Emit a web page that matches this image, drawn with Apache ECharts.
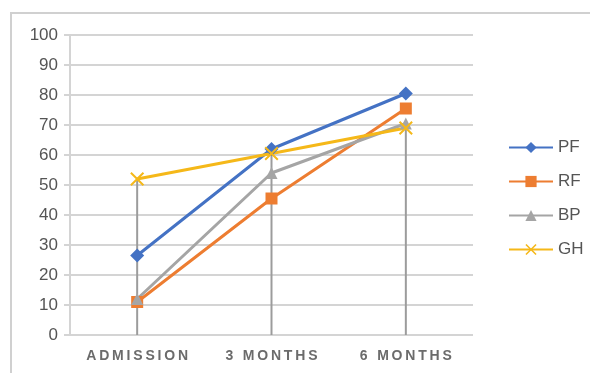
<!DOCTYPE html>
<html>
<head>
<meta charset="utf-8">
<script src="https://cdn.jsdelivr.net/npm/echarts@6/dist/echarts.min.js"></script>
<style>
  html, body { margin: 0; padding: 0; background: #fff; }
  #chart { width: 590px; height: 373px; }
</style>
</head>
<body>
<div id="chart"></div>
<script>
const categories = ['ADMISSION', '3 MONTHS', '6 MONTHS'];
const pfValues = [26.5, 62, 80.5];
const rfValues = [11, 45.5, 75.5];
const bpValues = [12, 54, 70.5];
const ghValues = [52, 60.5, 69];
const yTicks = [0, 10, 20, 30, 40, 50, 60, 70, 80, 90, 100];

// thin x marker for GH
const crossPath = 'path://M0,1 L1,0 L5,4 L9,0 L10,1 L6,5 L10,9 L9,10 L5,6 L1,10 L0,9 L4,5 Z';

const chart = echarts.init(document.getElementById('chart'));

const makeLine = (name, data, color, symbol, size) => ({
    name: name,
    type: 'line',
    data: data,
    symbol: symbol,
    symbolSize: size,
    z: 3,
    lineStyle: { color: color, width: 3 },
    itemStyle: { color: color },
    emphasis: { disabled: true }
});

chart.setOption({
    animation: false,
    graphic: [{
        type: 'rect',
        shape: { x: 11, y: 13, width: 620, height: 420 },
        style: { fill: 'none', stroke: '#d0d0d0', lineWidth: 2 },
        silent: true
    }],
    grid: { left: 70, right: 117, top: 35, bottom: 38 },
    legend: {
        orient: 'vertical',
        left: 503,
        top: 134,
        itemWidth: 44,
        itemHeight: 14,
        itemGap: 17,
        data: ['PF', 'RF', 'BP', 'GH'],
        textStyle: {
            color: '#555',
            fontSize: 17,
            fontFamily: 'Liberation Sans, Arial'
        }
    },
    xAxis: {
        type: 'category',
        data: categories,
        axisTick: { show: false },
        axisLine: { show: false },
        axisLabel: {
            color: '#6b6b6b',
            fontSize: 14,
            fontWeight: 'bold',
            fontFamily: 'Liberation Sans, Arial',
            margin: 14,
            formatter: v => v.split('').join('\u2009')
        }
    },
    yAxis: {
        type: 'value',
        min: yTicks[0],
        max: yTicks[yTicks.length - 1],
        interval: 10,
        axisLine: {
            show: true,
            lineStyle: { color: '#d4d4d4', width: 2 }
        },
        axisTick: {
            show: true,
            length: 6,
            lineStyle: { color: '#d4d4d4', width: 2 }
        },
        splitLine: {
            lineStyle: { color: '#d4d4d4', width: 2 }
        },
        axisLabel: {
            color: '#555',
            fontSize: 17,
            fontFamily: 'Liberation Sans, Arial',
            margin: 12
        }
    },
    series: [
        {
            // drop lines from the top point down to the axis
            name: 'drop',
            type: 'bar',
            data: ghValues,
            barWidth: 2,
            z: 1,
            silent: true,
            itemStyle: { color: '#9c9c9c' },
            legendHoverLink: false
        },
        makeLine('PF', pfValues, '#4472C4', 'diamond', 14),
        makeLine('RF', rfValues, '#ED7D31', 'rect', 12),
        makeLine('BP', bpValues, '#A5A5A5', 'triangle', 12),
        makeLine('GH', ghValues, '#F5B819', crossPath, 14)
    ]
});
</script>
</body>
</html>
